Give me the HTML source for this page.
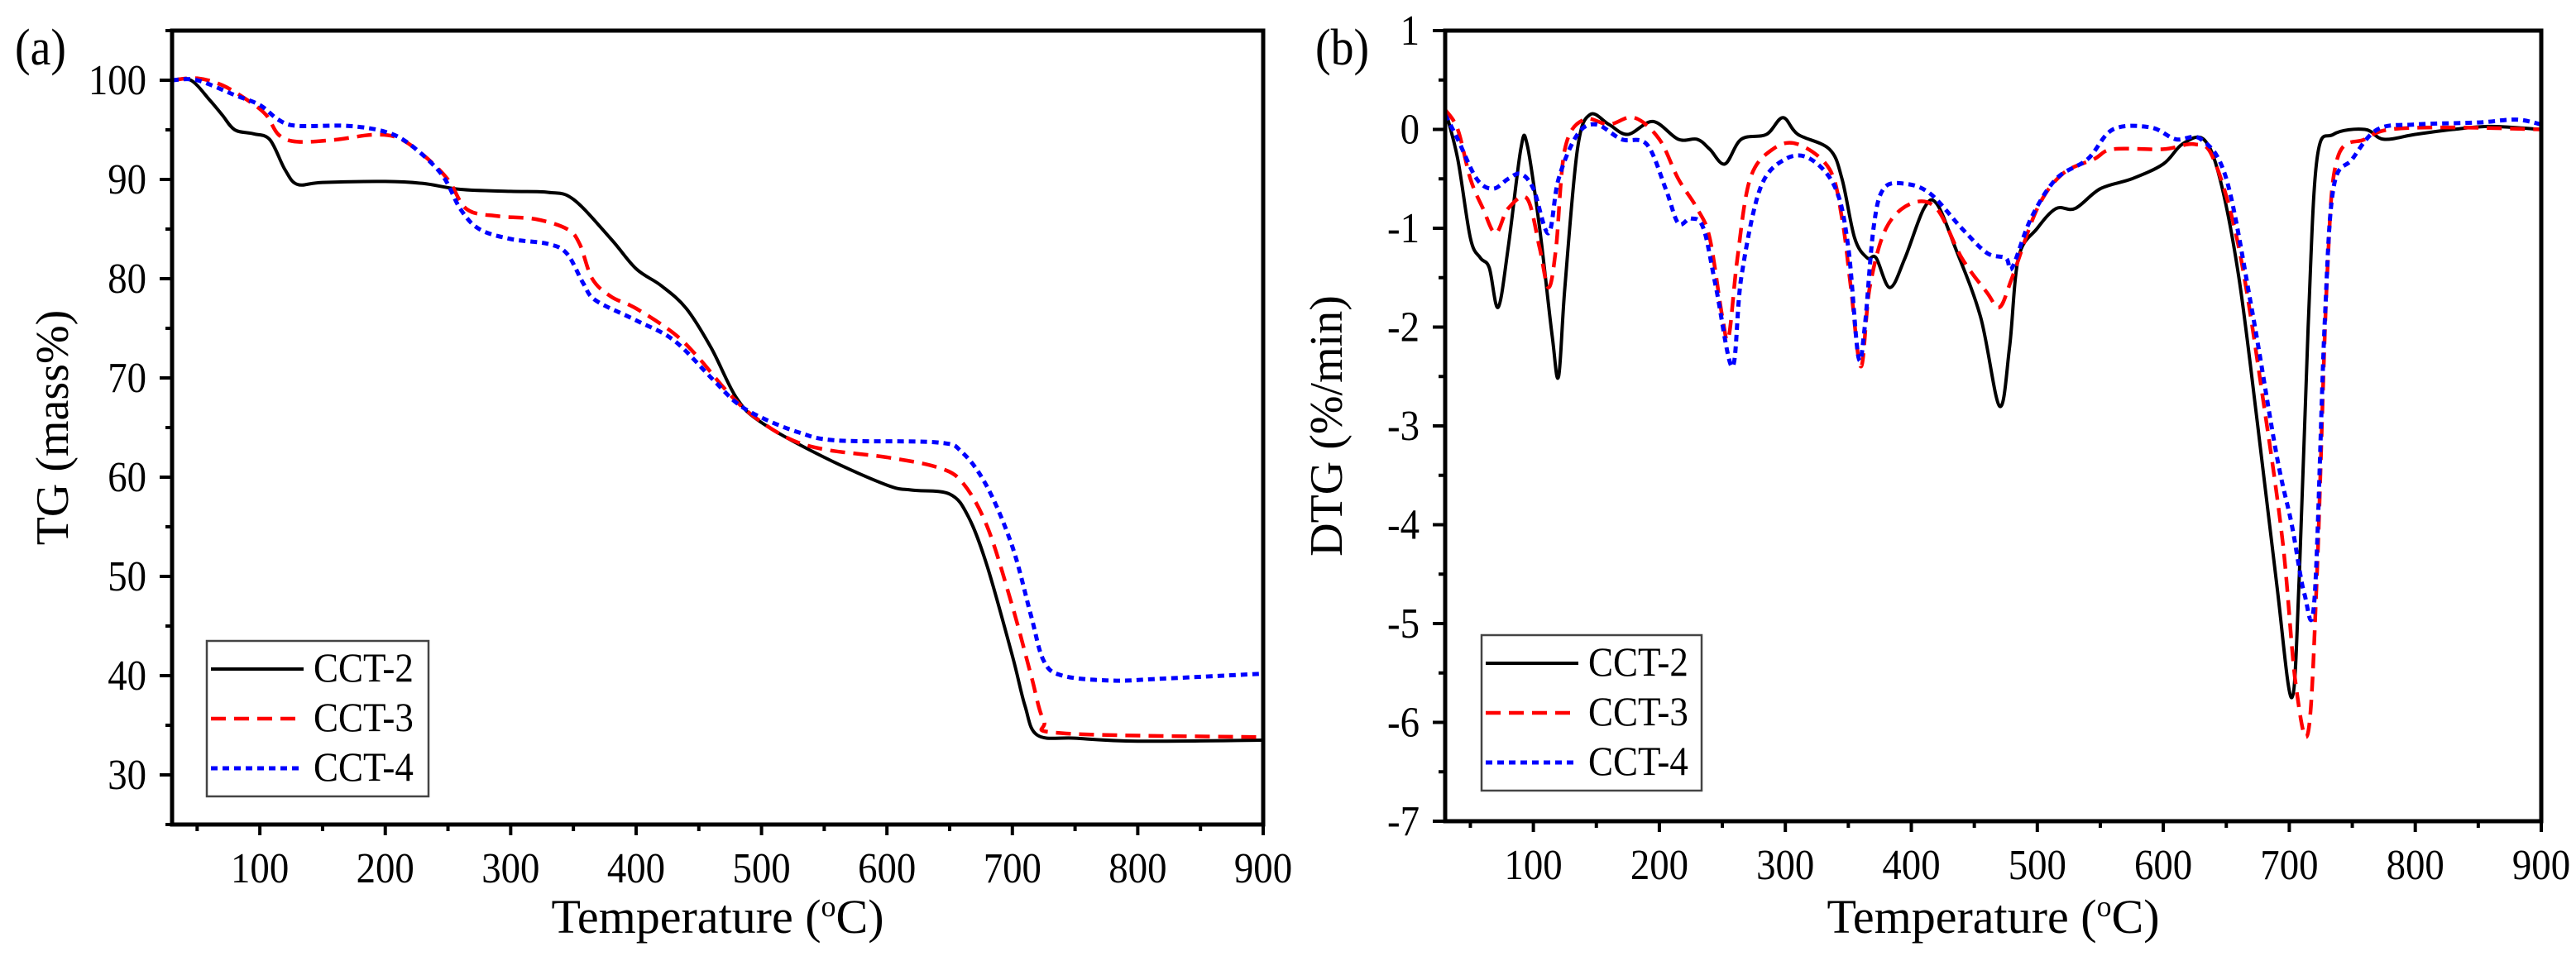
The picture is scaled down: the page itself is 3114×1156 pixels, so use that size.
<!DOCTYPE html>
<html><head><meta charset="utf-8"><style>
html,body{margin:0;padding:0;background:#fff;overflow:hidden;}
svg{display:block;font-family:"Liberation Serif",serif;}
</style></head><body>
<svg id="svg" width="3114" height="1156" viewBox="0 0 3114 1156" xmlns="http://www.w3.org/2000/svg"></svg>
<script>
const tgT2=[30,45,60,70,80,95,108,120,130,150,200,230,260,300,330,350,380,400,420,440,460,480,500,550,600,620,650,665,680,700,710,720,750,800,900];
const tgV2=[100,100,98,96.5,95,94.6,94,91,89.5,89.7,89.8,89.6,89,88.8,88.7,88,84,81,79.3,77,73,68,65.5,62,59.2,58.7,58.3,56,51,42,37,34,33.7,33.4,33.5];
const tgT3=[30,50,70,90,105,115,130,160,190,210,230,250,265,290,320,345,355,365,380,400,430,450,470,490,520,550,600,640,660,680,700,715,725,740,900];
const tgV3=[100,100.2,99.5,98,96.5,94.5,93.8,94,94.5,94.2,92.5,90,87,86.3,86,85,83.5,80,78.2,77,74.5,72,69,66.5,64,62.8,62,61,59.5,55,47,40,35.5,34.2,33.8];
const tgT4=[30,50,80,100,115,130,170,200,220,245,260,275,300,330,345,358,368,400,430,460,480,500,530,560,640,660,680,700,715,725,740,780,820,900];
const tgV4=[100,100,98.5,97.5,96,95.4,95.4,94.8,93.5,90.5,87,85,84,83.5,82.5,79.5,77.8,75.8,73.8,70,67.5,66,64.5,63.7,63.5,62.5,59,53,46,41.5,40,39.5,39.7,40.2];
const dT2=[30,40,50,58,65,72,80,90,95,105,115,120,125,135,145,160,175,195,215,230,240,252,265,285,298,310,335,345,355,365,372,383,395,410,420,435,455,470,478,485,500,515,530,550,575,600,615,632,645,660,675,690,702,708,715,722,735,760,775,800,830,860,900];
const dV2=[0.2,-0.3,-1.1,-1.3,-1.4,-1.8,-1.2,-0.2,-0.15,-1.0,-2.1,-2.5,-1.6,-0.2,0.15,0.05,-0.05,0.08,-0.1,-0.1,-0.2,-0.35,-0.1,-0.05,0.12,-0.05,-0.2,-0.5,-1.1,-1.3,-1.3,-1.6,-1.3,-0.8,-0.75,-1.2,-1.9,-2.8,-2.2,-1.3,-1.0,-0.8,-0.8,-0.6,-0.5,-0.35,-0.15,-0.1,-0.5,-1.5,-3,-4.6,-5.75,-4.5,-2,-0.3,-0.05,0,-0.1,-0.05,0,0.03,0];
const dT3=[30,40,50,60,70,80,95,105,112,118,125,140,160,180,200,215,230,240,250,255,262,272,290,310,335,345,352,360,367,380,400,420,440,460,470,480,500,520,545,560,600,625,640,660,680,695,705,715,722,730,738,760,780,830,900];
const dV3=[0.2,0,-0.5,-0.8,-1.05,-0.8,-0.7,-1.2,-1.6,-1.2,-0.2,0.1,0.05,0.12,-0.1,-0.5,-0.8,-1.1,-1.9,-2.1,-1.3,-0.5,-0.2,-0.15,-0.4,-0.9,-1.6,-2.4,-1.6,-1.0,-0.75,-0.8,-1.3,-1.65,-1.8,-1.5,-0.8,-0.45,-0.3,-0.2,-0.2,-0.15,-0.3,-1.2,-2.8,-4.2,-5.6,-6.1,-4.5,-1.5,-0.3,-0.1,0,0.02,0];
const dT4=[30,40,55,68,80,90,100,112,120,135,150,170,190,205,215,225,235,245,258,265,280,300,320,340,350,358,363,370,378,395,415,440,460,475,480,495,515,540,560,590,610,630,650,670,690,702,712,720,728,735,750,770,800,850,880,900];
const dV4=[0.15,-0.1,-0.5,-0.6,-0.5,-0.45,-0.6,-1.05,-0.5,-0.05,0.05,-0.1,-0.15,-0.6,-0.95,-0.9,-1.0,-1.6,-2.4,-1.5,-0.6,-0.3,-0.3,-0.6,-1.2,-2.3,-2.0,-1.0,-0.6,-0.55,-0.65,-1.0,-1.25,-1.3,-1.4,-0.9,-0.5,-0.3,0,0.02,-0.1,-0.1,-0.5,-1.8,-3.3,-4.0,-4.7,-4.75,-2,-0.6,-0.3,0,0.05,0.07,0.1,0.05];
const xTicks=[100,200,300,400,500,600,700,800,900];
const tgTicks=[30,40,50,60,70,80,90,100];
const dTicks=[-7,-6,-5,-4,-3,-2,-1,0,1];
const legendLabels=["CCT-2","CCT-3","CCT-4"];

const NS="http://www.w3.org/2000/svg";
const svg=document.getElementById('svg');
function mk(tag,attrs,parent){const e=document.createElementNS(NS,tag);for(const k in attrs)e.setAttribute(k,attrs[k]);(parent||svg).appendChild(e);return e;}
function txt(x,y,size,anchor,s,parent){const t=mk('text',{x:0,y:0,"font-size":size,"text-anchor":anchor,transform:`translate(${x},${y}) scale(0.9,1)`},parent);t.textContent=s;return t;}
const styles=[{stroke:"#000",w:4,dash:""},{stroke:"#f00",w:4.5,dash:"18 10"},{stroke:"#00f",w:5,dash:"8 6"}];
function smooth(pts){let d="M"+pts[0][0]+","+pts[0][1];for(let i=0;i<pts.length-1;i++){const p0=pts[Math.max(0,i-1)],p1=pts[i],p2=pts[i+1],p3=pts[Math.min(pts.length-1,i+2)];
const c1x=p1[0]+(p2[0]-p0[0])/6,c1y=p1[1]+(p2[1]-p0[1])/6,c2x=p2[0]-(p3[0]-p1[0])/6,c2y=p2[1]-(p3[1]-p1[1])/6;
d+=" C"+c1x.toFixed(1)+","+c1y.toFixed(1)+" "+c2x.toFixed(1)+","+c2y.toFixed(1)+" "+p2[0].toFixed(1)+","+p2[1].toFixed(1);}return d;}

function panel(o){
  const g=mk('g',{});
  
  
  const X=v=>o.L+(v-30)/(870)*(o.R-o.L);
  const Y=v=>o.B-(v-o.ymin)/(o.ymax-o.ymin)*(o.B-o.T);
  for(let v=50;v<=900;v+=50){const t=mk('line',{x1:X(v),x2:X(v),y1:o.B,y2:o.B+(v%100?8:13),stroke:"#000","stroke-width":4},g);
    }
  xTicks.forEach(v=>{const t=txt(X(v),o.B+70,52,"middle",v,g);
    });
  const step=o.ticks[1]-o.ticks[0];
  for(let v=o.ymin;v<=o.ymax+1e-9;v+=step/2){const maj=o.ticks.some(t=>Math.abs(t-v)<1e-6);
    const t=mk('line',{x1:o.L-(maj?15:8),x2:o.L,y1:Y(v),y2:Y(v),stroke:"#000","stroke-width":4},g);
    }
  o.ticks.forEach(v=>{const t=txt(o.L-31,Y(v)+17,52,"end",v,g);
    });
  o.series.forEach((s,i)=>{const pts=s[0].map((t,j)=>[X(t),Y(s[1][j])]);
    const p=mk('path',{d:smooth(pts),fill:"none",stroke:styles[i].stroke,"stroke-width":styles[i].w,"stroke-dasharray":styles[i].dash,"stroke-linejoin":"round"},g);
    });
  const f=mk('rect',{x:o.L,y:o.T,width:o.R-o.L,height:o.B-o.T,fill:"none",stroke:"#000","stroke-width":5},g);
  
  const lg=mk('g',{},g);
  mk('rect',{x:o.lx,y:o.ly,width:o.lw,height:188,fill:"#fff",stroke:"#444","stroke-width":2.5},lg);
  legendLabels.forEach((l,i)=>{const yy=o.ly+34+i*60;
    const e=mk('g',{},lg);
    mk('line',{x1:o.lx+5,x2:o.lx+117,y1:yy,y2:yy,stroke:styles[i].stroke,"stroke-width":styles[i].w,"stroke-dasharray":styles[i].dash},e);
    txt(o.lx+129,yy+15,50,"start",l,e);});
  const xt=mk('text',{x:(o.L+o.R)/2,y:1128,"font-size":58,"text-anchor":"middle"},g);
  xt.innerHTML='Temperature (<tspan dy="-20" font-size="36">o</tspan><tspan dy="20">C)</tspan>';
  
  const yt=mk('text',{x:0,y:0,"font-size":56,"text-anchor":"middle",transform:`translate(${o.ytx},${(o.T+o.B)/2}) rotate(-90)`},g);
  yt.textContent=o.ytitle;
  const pl=txt(o.plx,78,62,"start",o.plabel,g);
  
}
panel({name:'tg-chart',L:208,R:1527,T:37,B:997,ymin:25,ymax:105,ticks:tgTicks,ytitle:'TG (mass%)',ytx:82,plabel:'(a)',plx:18,
  lx:250,ly:775,lw:268,series:[[tgT2,tgV2],[tgT3,tgV3],[tgT4,tgV4]]});
panel({name:'dtg-chart',L:1747,R:3072,T:37,B:993,ymin:-7,ymax:1,ticks:dTicks,ytitle:'DTG (%/min)',ytx:1622,plabel:'(b)',plx:1590,
  lx:1791,ly:768,lw:266,series:[[dT2,dV2],[dT3,dV3],[dT4,dV4]]});
</script>
</body></html>
